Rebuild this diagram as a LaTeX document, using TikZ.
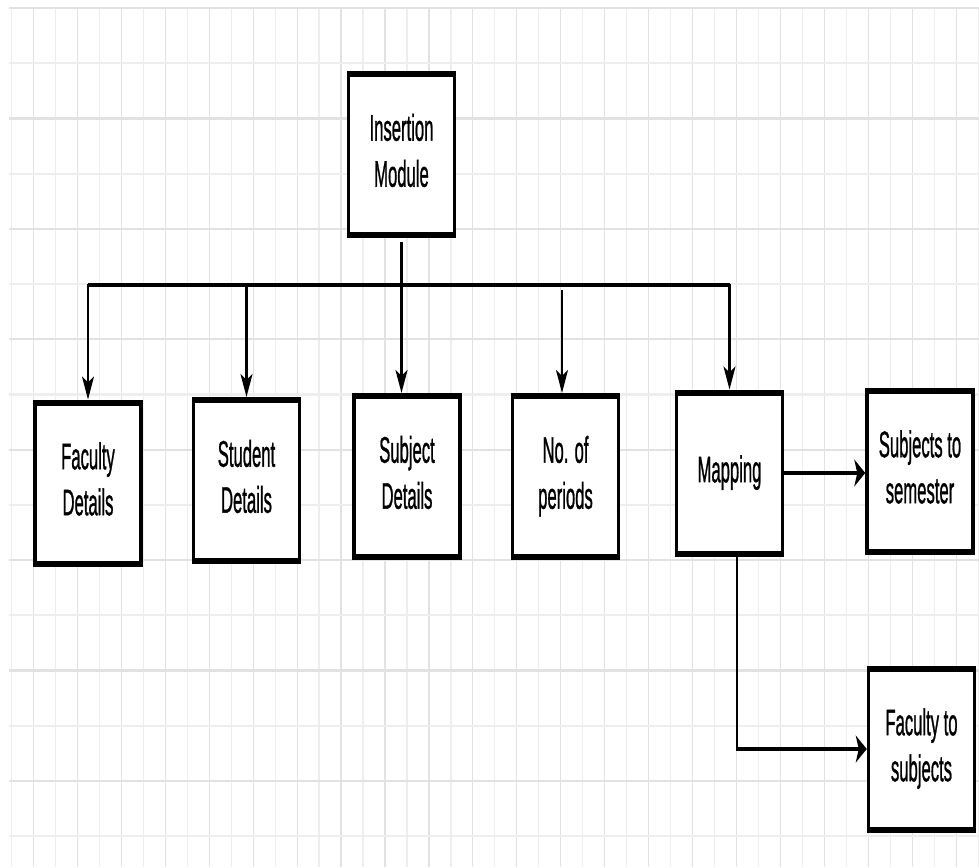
\documentclass[tikz,border=0pt]{standalone}
\usepackage{fontspec}
\setmainfont{Liberation Sans}
\newfontfamily\boxfont{Liberation Sans}[FakeBold=1.3]
\usepackage{graphicx}
\usetikzlibrary{arrows.meta}
\definecolor{gmin}{HTML}{EEEEEE}
\definecolor{gmaj}{HTML}{E2E2E2}
\newcommand\sqz[1]{\scalebox{0.45}[1]{\boxfont\fontsize{37}{46}\selectfont\begin{tabular}{@{}c@{}}#1\end{tabular}}}
\begin{document}
\begin{tikzpicture}[x=1pt,y=-1pt,
  box/.style={draw, line width=3.5pt, minimum width=106pt, minimum height=161pt, inner sep=0pt, outer sep=0pt, fill=white},
  hb/.style={line width=6pt},
  con/.style={line width=2.5pt},
  hcon/.style={line width=4.5pt},
  vt/.style={>={Stealth[length=23pt,width=12pt,inset=6pt]}, shorten >=3pt},
  ht/.style={>={Stealth[length=11pt,width=27pt,inset=3pt]}, shorten >=1.75pt},
]
\useasboundingbox (0,0) rectangle (979,867);
\fill[white] (0,0) rectangle (979,867);
% grid
\foreach \k [evaluate=\k as \xx using 11.5+21.97*\k] in {0,2,...,44}
  \draw[gmin, line width=1.2pt] (\xx,8) -- (\xx,867);
\foreach \k [evaluate=\k as \xx using 11.5+21.97*\k] in {1,3,...,43}
  \draw[gmaj, line width=1.2pt] (\xx,8) -- (\xx,867);
\foreach \k [evaluate=\k as \yy using 8+55.2*\k] in {1,3,...,15}
  \draw[gmin, line width=2.2pt] (9,\yy) -- (979,\yy);
\foreach \k [evaluate=\k as \yy using 8+55.2*\k] in {0,2,...,14}
  \draw[gmaj, line width=2.2pt] (9,\yy) -- (979,\yy);
% boxes
\node[box] (ins) at (401.5,154.5) {\sqz{Insertion\\Module}};
\node[box] (fac) at (88,483) {\sqz{Faculty\\Details}};
\node[box] (stu) at (246.5,480.5) {\sqz{Student\\Details}};
\node[box] (sub) at (407,476.5) {\sqz{Subject\\Details}};
\node[box] (per) at (565.5,476.5) {\sqz{No. of\\periods}};
\node[box] (map) at (729.5,473) {\sqz{Mapping}};
\node[box] (sem) at (920,471) {\sqz{Subjects to\\semester}};
\node[box] (fts) at (921.5,749) {\sqz{Faculty to\\subjects}};
\foreach \n in {ins,fac,stu,sub,per,map,sem,fts}
  \draw[hb] ([xshift=-1.75pt]\n.north west) -- ([xshift=1.75pt]\n.north east)
            ([xshift=-1.75pt]\n.south west) -- ([xshift=1.75pt]\n.south east);
% connectors
\coordinate (bar) at (0,285);
\coordinate (perstart) at (562,290);
\draw[con,vt,<->, shorten <=3pt] (fac.north) |- (bar -| map.north) -- (map.north);
\draw[hcon] (fac.north |- bar) -- (map.north |- bar);
\draw[con,vt,->] (stu.north |- bar) -- (stu.north);
\draw[con,vt,->] ([yshift=-7pt]ins.south) -- (ins.south |- sub.north);
\draw[con,vt,->] (perstart) -- (perstart |- per.north);
\draw[hcon,ht,->] (map.east) -- (map.east -| sem.west);
\draw[con] ([xshift=7.5pt]map.south) -- ([xshift=7.5pt]map.south |- fts.west);
\draw[hcon,ht,->] ([xshift=6.3pt]map.south |- fts.west) -- (fts.west);
\end{tikzpicture}
\end{document}
